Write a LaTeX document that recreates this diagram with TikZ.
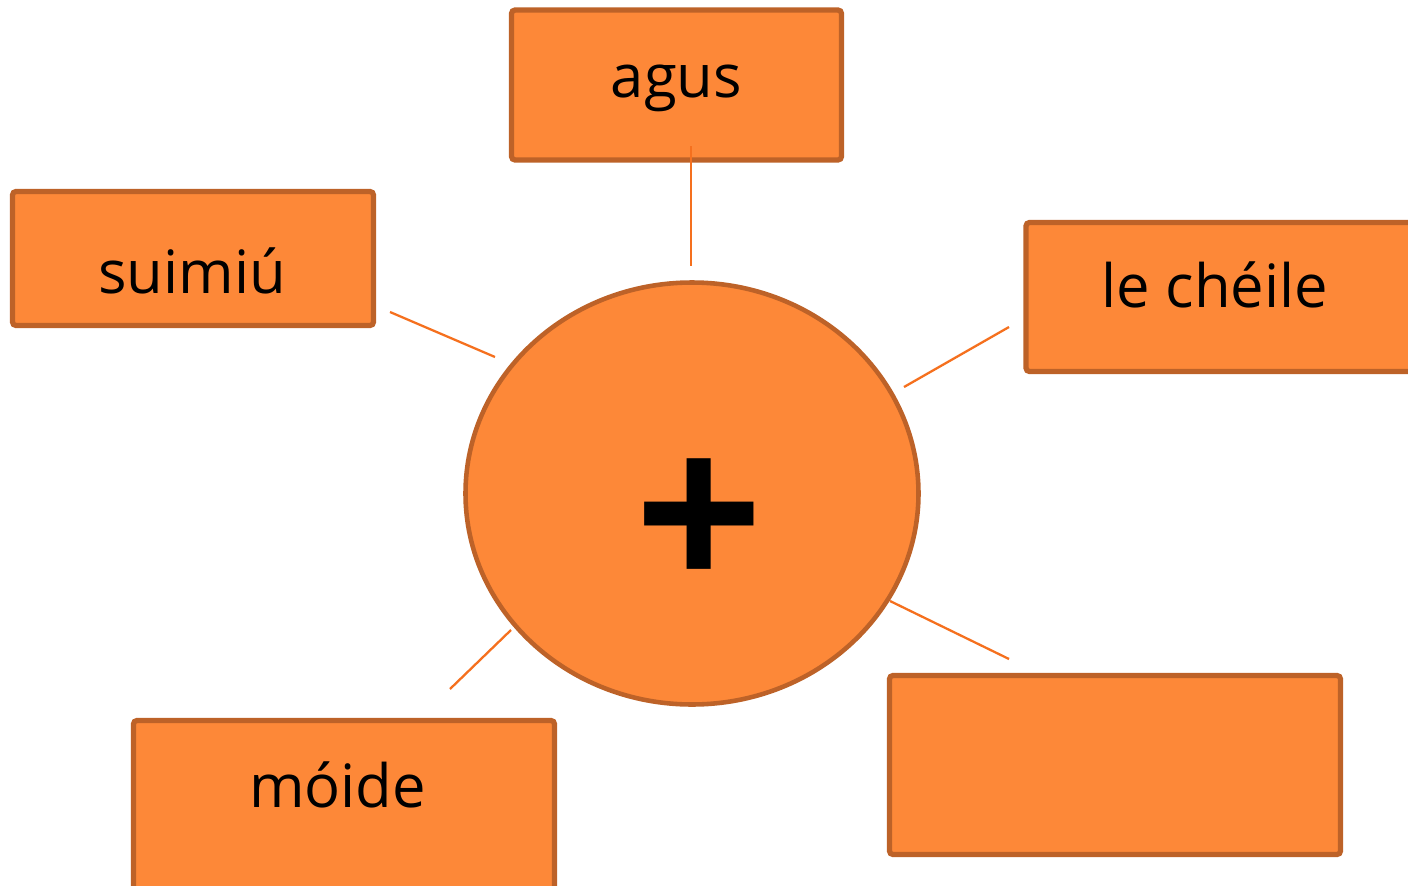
\documentclass[tikz,border=0pt]{standalone}
\usepackage{fontspec}
\setmainfont{Open Sans}
\newfontfamily\plusfont{Liberation Sans}
\usetikzlibrary{shapes.geometric}
\definecolor{boxfill}{HTML}{FD8838}
\definecolor{boxline}{HTML}{BD6228}
\definecolor{linkcol}{HTML}{F5701E}
\tikzset{
  card/.style={draw=boxline, fill=boxfill, line width=1.5pt, rounded corners=1pt, inner sep=0pt},
  word/.style={anchor=base, inner sep=0pt, font=\fontsize{17}{20}\selectfont, text=black},
  link/.style={draw=linkcol, line width=0.65pt},
}
\begin{document}
\begin{tikzpicture}
\useasboundingbox (0,0) rectangle (14.08,8.85);
\clip (0,0) rectangle (14.08,8.85);
% boxes
\node[card, minimum width=3.30cm, minimum height=1.50cm] (agusbox) at (6.765,8.00) {};
\node[card, minimum width=3.61cm, minimum height=1.34cm] (suimbox) at (1.93,6.265) {};
\node[card, minimum width=3.86cm, minimum height=1.49cm] (lecbox) at (12.19,5.88) {};
\node[card, minimum width=4.21cm, minimum height=1.78cm] (moidebox) at (3.44,0.755) {};
\node[card, minimum width=4.51cm, minimum height=1.79cm] (emptybox) at (11.15,1.20) {};
% centre ellipse
\node[card, ellipse, line width=1.3pt, minimum width=4.53cm, minimum height=4.22cm] (hub) at (6.92,3.915) {};
% texts
\node[word] (agus) at (6.765,7.88) {agus};
\node[word] (suim) at (1.92,5.92) {suimiú};
\node[word] (lec) at (12.15,5.78) {le chéile};
\node[word] (moide) at (3.375,0.78) {móide};
\node[anchor=center, inner sep=0pt, font=\plusfont\bfseries\fontsize{62}{62}\selectfont] (plus) at (6.995,3.62) {+};
% connector ends
\coordinate (a1) at (6.91,7.39);
\coordinate (a2) at (6.91,6.19);
\coordinate (s1) at (3.90,5.73);
\coordinate (s2) at (4.95,5.28);
\coordinate (l1) at (10.09,5.58);
\coordinate (l2) at (9.04,4.98);
\coordinate (e1) at (8.90,2.84);
\coordinate (e2) at (10.09,2.26);
\coordinate (m1) at (5.11,2.55);
\coordinate (m2) at (4.50,1.96);
\draw[link] (a1) -- (a2);
\draw[link] (s1) -- (s2);
\draw[link] (l1) -- (l2);
\draw[link] (e1) -- (e2);
\draw[link] (m1) -- (m2);
\end{tikzpicture}
\end{document}
